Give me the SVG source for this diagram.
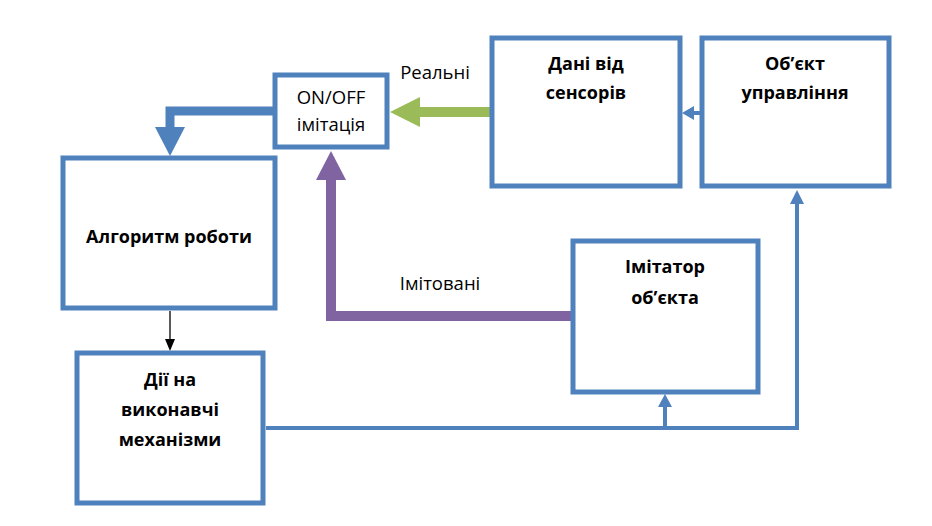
<svg xmlns="http://www.w3.org/2000/svg" width="932" height="526" viewBox="0 0 932 526">
<style>
.box{fill:#fff;stroke:#4F81BD;stroke-width:5}
.t{font-family:"Open Sans","Liberation Sans",sans-serif;font-size:18px;font-weight:bold;fill:#000;text-anchor:middle}
.l{font-family:"Open Sans","Liberation Sans",sans-serif;font-size:18.5px;fill:#000;text-anchor:middle}
.thin{fill:none;stroke:#4F81BD;stroke-width:4}
</style>
<rect width="932" height="526" fill="#fff"/>
<g id="connectors">
  <polyline points="276,111 170,111 170,128" fill="none" stroke="#4F81BD" stroke-width="9"/>
  <polygon points="155,127 185,127 170,156" fill="#4F81BD"/>
  <line x1="492" y1="112" x2="418" y2="112" stroke="#9BBB59" stroke-width="10"/>
  <polygon points="420,97 420,127 390,112" fill="#9BBB59"/>
  <polyline points="571,316 331,316 331,178" fill="none" stroke="#8064A2" stroke-width="10"/>
  <polygon points="316,180 346,180 331,151" fill="#8064A2"/>
  <line x1="701" y1="113" x2="692" y2="113" stroke="#4F81BD" stroke-width="4"/>
  <polygon points="694,106 694,120 682,113" fill="#4F81BD"/>
  <line x1="170" y1="311" x2="170" y2="340" stroke="#000" stroke-width="1.3"/>
  <polygon points="165,339 175,339 170,351" fill="#000"/>
  <polyline class="thin" points="266,428 797,428 797,202"/>
  <polygon points="790,204 804,204 797,190" fill="#4F81BD"/>
  <line class="thin" x1="665" y1="428" x2="665" y2="405"/>
  <polygon points="658,407 672,407 665,394" fill="#4F81BD"/>
  <text class="l" x="435" y="79">Реальні</text>
  <text class="l" x="440" y="290">Імітовані</text>
</g>
<g id="onoff">
  <rect class="box" x="275" y="75" width="112" height="72"/>
  <text class="l" x="331" y="104">ON/OFF</text>
  <text class="l" x="331" y="131">імітація</text>
</g>
<g id="sensors">
  <rect class="box" x="492" y="38" width="188" height="148"/>
  <text class="t" x="586" y="70">Дані від</text>
  <text class="t" x="586" y="99">сенсорів</text>
</g>
<g id="object">
  <rect class="box" x="702" y="38" width="187" height="148"/>
  <text class="t" x="795" y="70">Об’єкт</text>
  <text class="t" x="795" y="99">управління</text>
</g>
<g id="algorithm">
  <rect class="box" x="63" y="158" width="212" height="150"/>
  <text class="t" x="169" y="243">Алгоритм роботи</text>
</g>
<g id="actions">
  <rect class="box" x="77" y="353" width="186" height="150"/>
  <text class="t" x="170" y="386">Дії на</text>
  <text class="t" x="170" y="416">виконавчі</text>
  <text class="t" x="170" y="446">механізми</text>
</g>
<g id="imitator">
  <rect class="box" x="573" y="241" width="185" height="151"/>
  <text class="t" x="665" y="273">Імітатор</text>
  <text class="t" x="665" y="304">об’єкта</text>
</g>
</svg>
